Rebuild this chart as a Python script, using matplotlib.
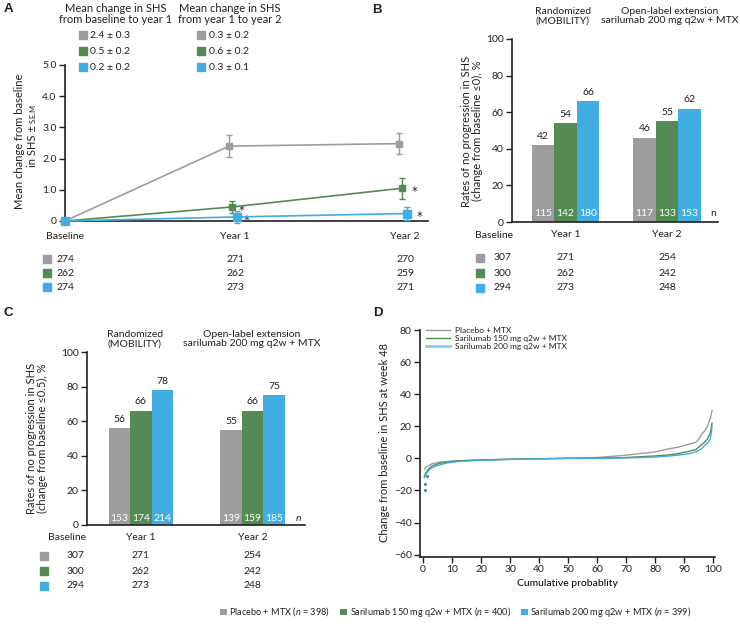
import matplotlib
matplotlib.use('Agg')
import matplotlib.pyplot as plt
import matplotlib.transforms as mtrans
from matplotlib.lines import Line2D
from matplotlib.patches import Patch

plt.rcParams['font.family'] = ['Lato', 'DejaVu Sans']
plt.rcParams['font.size'] = 7.5
plt.rcParams['mathtext.fontset'] = 'custom'
plt.rcParams['mathtext.rm'] = 'Lato'
plt.rcParams['mathtext.it'] = 'Lato:italic'
TXT = '#231f20'
plt.rcParams['text.color'] = TXT
plt.rcParams['xtick.color'] = TXT
plt.rcParams['ytick.color'] = TXT
plt.rcParams['axes.edgecolor'] = TXT

GREY = '#9d9d9f'
GREEN = '#548b52'
BLUE = '#41ade2'
COLORS = [GREY, GREEN, BLUE]

# ---------------- data ----------------
group_labels = ['Placebo + MTX', 'Sarilumab 150 mg q2w + MTX', 'Sarilumab 200 mg q2w + MTX']
group_n = [398, 400, 399]

# Panel A
a_timepoints = ['Baseline', 'Year 1', 'Year 2']
a_pbo_mean = [0.0, 2.40, 2.48]
a_pbo_sem = [0.0, 0.35, 0.33]
a_s150_mean = [0.0, 0.45, 1.05]
a_s150_sem = [0.0, 0.18, 0.33]
a_s200_mean = [0.0, 0.13, 0.24]
a_s200_sem = [0.0, 0.20, 0.20]
a_sig_s150 = [False, True, True]
a_sig_s200 = [False, True, True]
a_leg_y1 = ['2.4 ± 0.3', '0.5 ± 0.2', '0.2 ± 0.2']
a_leg_y2 = ['0.3 ± 0.2', '0.6 ± 0.2', '0.3 ± 0.1']
a_n_pbo = [274, 271, 270]
a_n_s150 = [262, 262, 259]
a_n_s200 = [274, 273, 271]

# Panel B (change from baseline <=0)
bc_periods = ['Year 1', 'Year 2']
b_pbo = [42, 46]
b_s150 = [54, 55]
b_s200 = [66, 62]
b_n_pbo = [115, 117]
b_n_s150 = [142, 133]
b_n_s200 = [180, 153]

# Panel C (change from baseline <=0.5)
c_pbo = [56, 55]
c_s150 = [66, 66]
c_s200 = [78, 75]
c_n_pbo = [153, 139]
c_n_s150 = [174, 159]
c_n_s200 = [214, 185]

# Tables below B and C (Baseline, Year 1, Year 2)
bc_tab_pbo = [307, 271, 254]
bc_tab_s150 = [300, 262, 242]
bc_tab_s200 = [294, 273, 248]

# Panel D: cumulative probability curves
d_pbo_p = [0.5, 1, 2, 3, 5, 8, 12, 20, 30, 40, 50, 60, 65, 70, 75, 80, 85, 88, 90, 92, 94, 95, 96, 97, 98, 99, 99.6]
d_pbo_v = [-7, -5.5, -4.5, -3.5, -2.6, -2, -1.5, -1, -0.5, -0.2, 0, 0.5, 1.2, 2, 3, 4, 6, 7, 8, 9, 10, 12, 15, 17, 20, 25, 30]
d_s150_p = [0.5, 1, 2, 3, 5, 8, 12, 20, 30, 40, 50, 60, 70, 80, 85, 88, 90, 92, 94, 95, 96, 97, 98, 99, 99.6]
d_s150_v = [-11, -9, -6.5, -5, -3.5, -2.3, -1.6, -1, -0.6, -0.3, 0, 0.2, 0.5, 1.5, 2.2, 3, 3.8, 4.5, 5.5, 7, 8.5, 10, 12, 16, 22]
d_s200_p = [0.5, 1, 2, 3, 5, 8, 12, 20, 30, 40, 50, 60, 70, 80, 85, 88, 90, 92, 94, 95, 96, 97, 98, 99, 99.6]
d_s200_v = [-12, -10, -7.5, -6, -4.5, -3, -2, -1.2, -0.7, -0.3, 0, 0, 0.2, 0.8, 1.5, 2, 2.5, 3, 4, 5, 6, 8, 9.5, 12, 20]
d_out_p = [0.7, 0.7, 1.5]
d_out_v = [-16, -20, -11]

# ---------------- layout helpers ----------------
W, H = 740, 626
fig = plt.figure(figsize=(7.4, 6.26), dpi=100)


def rect(l, t, r, b):
    return [l / W, 1 - b / H, (r - l) / W, (b - t) / H]


def fx(x):
    return x / W


def fy(y):
    return 1 - y / H


def ftext(x, y, s, **kw):
    fig.text(fx(x), fy(y), s, **kw)


def fsquare(x, y, color, size=5.2):
    fig.add_artist(Line2D([fx(x)], [fy(y)], marker='s', ms=size, color=color,
                          lw=0, transform=fig.transFigure))


def style_axes(ax):
    for s in ['top', 'right']:
        ax.spines[s].set_visible(False)
    for s in ['left', 'bottom']:
        ax.spines[s].set_linewidth(1.2)
    ax.tick_params(axis='y', length=4, width=1, direction='out', labelsize=7.5, pad=2)


# ---------------- Panel A ----------------
axA = fig.add_axes(rect(65, 65, 428, 221))
style_axes(axA)
xA = [0, 1, 2]
dodge = [-0.035, -0.018, 0.012]
series_A = [(a_pbo_mean, a_pbo_sem), (a_s150_mean, a_s150_sem), (a_s200_mean, a_s200_sem)]
msz = [4.5, 4.5, 5.5]
for i, (m, s) in enumerate(series_A):
    xs = [x + (dodge[i] if x > 0 else 0) for x in xA]
    axA.errorbar(xs, m, yerr=s, fmt='-s', color=COLORS[i], ms=msz[i], lw=1.2,
                 elinewidth=1.0, capsize=2.5, capthick=1.0, clip_on=False, zorder=3 + i)
for i, sig in [(1, a_sig_s150), (2, a_sig_s200)]:
    m = series_A[i][0]
    for j, flag in enumerate(sig):
        if flag:
            off = 0.04 if j == 1 else 0.055
            axA.text(xA[j] + dodge[i] + off, m[j] - 0.1, '*', fontsize=8.5, ha='left', va='center',
                     family=['DejaVu Sans'])
axA.set_xlim(0, 2.135)
axA.set_ylim(0, 5)
axA.set_yticks([0, 1, 2, 3, 4, 5])
axA.set_yticklabels(['0', '1.0', '2.0', '3.0', '4.0', '5.0'])
axA.set_xticks(xA)
axA.set_xticklabels(a_timepoints, fontsize=7.5)
axA.tick_params(axis='x', length=0, pad=8)
ftext(20, 141, 'Mean change from baseline', rotation=90, ha='center', va='center', fontsize=8)
ftext(33, 167, 'in SHS ±', rotation=90, rotation_mode='anchor', ha='left', va='center', fontsize=8)
ftext(33, 123, 'S.E.M', rotation=90, rotation_mode='anchor', ha='left', va='center', fontsize=5.5)

# Panel A legend block
ftext(116, 14, 'Mean change in SHS\nfrom baseline to year 1', ha='center', va='center',
      fontsize=8, linespacing=1.0)
ftext(230, 14, 'Mean change in SHS\nfrom year 1 to year 2', ha='center', va='center',
      fontsize=8, linespacing=1.0)
for i, yy in enumerate([35, 51, 67]):
    fsquare(82.5, yy, COLORS[i])
    ftext(90, yy, a_leg_y1[i], ha='left', va='center', fontsize=7.5)
    fsquare(201, yy, COLORS[i])
    ftext(209, yy, a_leg_y2[i], ha='left', va='center', fontsize=7.5)

# Panel A table
trA = mtrans.blended_transform_factory(axA.transData, fig.transFigure)
for i, (row, yy) in enumerate(zip([a_n_pbo, a_n_s150, a_n_s200], [259, 273, 287])):
    fsquare(47, yy, COLORS[i])
    for j, v in enumerate(row):
        axA.text(xA[j], fy(yy), str(v), transform=trA,
                 ha='center', va='center', fontsize=7.5)


# ---------------- Bar panels ----------------
def bar_panel(ax_rect, vals, ns, xlim, width, n_y, n_italic, base_x, sq_x, tab_rows_y, cat_y_px):
    ax = fig.add_axes(ax_rect)
    style_axes(ax)
    xs = [1, 2]
    for i in range(3):
        pos = [x + (i - 1) * width for x in xs]
        ax.bar(pos, vals[i], width=width, color=COLORS[i], edgecolor='none', zorder=2)
        for p, v, n in zip(pos, vals[i], ns[i]):
            ax.text(p, v + 2.5, str(v), ha='center', va='bottom', fontsize=7.5)
            ax.text(p, n_y, str(n), ha='center', va='center', fontsize=7.5, color='white', zorder=3)
    ax.text(2 + 1.5 * width + 0.12, n_y, r'$n$' if n_italic else 'n', ha='center', va='center', fontsize=7.5)
    ax.set_xlim(*xlim)
    ax.set_ylim(0, 100)
    ax.set_yticks([0, 20, 40, 60, 80, 100])
    ax.set_xticks(xs)
    ax.set_xticklabels(bc_periods, fontsize=7.5)
    ax.tick_params(axis='x', length=0, pad=6)
    tr = mtrans.blended_transform_factory(ax.transData, fig.transFigure)
    ftext(base_x, cat_y_px, 'Baseline', ha='center', va='center', fontsize=7.5)
    for i, (row, yy) in enumerate(zip([bc_tab_pbo, bc_tab_s150, bc_tab_s200], tab_rows_y)):
        fsquare(sq_x, yy, COLORS[i], size=6)
        ftext(base_x + 8, yy, str(row[0]), ha='center', va='center', fontsize=7.5)
        for j in (1, 2):
            ax.text(xs[j - 1], fy(yy), str(row[j]), transform=tr, ha='center', va='center', fontsize=7.5)
    return ax


# Panel B
bw = 22.5 / 101.5
axB = bar_panel(rect(512, 39, 718, 222), [b_pbo, b_s150, b_s200], [b_n_pbo, b_n_s150, b_n_s200],
                (0.473, 2.502), bw, 4.5, False, 494, 480, [258, 273, 288], 235)
ftext(472, 131, 'Rates of no progression in SHS\n(change from baseline ≤0), %', rotation=90,
      ha='center', va='center', fontsize=8, linespacing=1.1, multialignment='center')
ftext(563, 16, 'Randomized\n(MOBILITY)', ha='center', va='center', fontsize=7.5, linespacing=1.05)
ftext(670, 16, 'Open-label extension\nsarilumab 200 mg q2w + MTX', ha='center', va='center',
      fontsize=7.5, linespacing=1.05)

# Panel C
cw = 21.5 / 111.5
axC = bar_panel(rect(87, 352, 305, 525), [c_pbo, c_s150, c_s200], [c_n_pbo, c_n_s150, c_n_s200],
                (0.516, 2.471), cw, 3.5, True, 67, 44, [556, 571, 586], 538)
ftext(37, 438, 'Rates of no progression in SHS\n(change from baseline ≤0.5), %', rotation=90,
      ha='center', va='center', fontsize=8, linespacing=1.1, multialignment='center')
ftext(135, 339, 'Randomized\n(MOBILITY)', ha='center', va='center', fontsize=7.5, linespacing=1.05)
ftext(252, 339, 'Open-label extension\nsarilumab 200 mg q2w + MTX', ha='center', va='center',
      fontsize=7.5, linespacing=1.05)

# ---------------- Panel D ----------------
axD = fig.add_axes(rect(420, 330, 715, 557))
style_axes(axD)
axD.plot(d_pbo_p, d_pbo_v, color=GREY, lw=1.0)
axD.plot(d_s150_p, d_s150_v, color=GREEN, lw=1.0)
axD.plot(d_s200_p, d_s200_v, color=BLUE, lw=1.0)
axD.scatter(d_out_p, d_out_v, s=1.5, color='#3f8f9f', zorder=3)
axD.set_xlim(-1, 100.6)
axD.set_ylim(-61.5, 80)
axD.set_yticks([-60, -40, -20, 0, 20, 40, 60, 80])
axD.set_xticks(range(0, 101, 10))
axD.tick_params(axis='x', length=4, width=1, direction='out', labelsize=7.5, pad=2)
axD.set_xlabel('Cumulative probablity', fontsize=7.5, labelpad=3)
ftext(385, 443, 'Change from baseline in SHS at week 48', rotation=90, ha='center', va='center', fontsize=8)
d_handles = [Line2D([], [], color=GREY, lw=1.0), Line2D([], [], color=GREEN, lw=1.0),
             Line2D([], [], color='#8fcbe6', lw=2.0)]
axD.legend(d_handles, group_labels, loc='upper left', bbox_to_anchor=(0.01, 1.03), frameon=False,
           fontsize=6, handlelength=2.8, handletextpad=0.6, labelspacing=0.15, borderaxespad=0)

# Panel letters
for s, x, y in [('A', 8, 9), ('B', 377, 10), ('C', 8, 313), ('D', 378, 313)]:
    ftext(x, y, s, ha='center', va='center', fontsize=9.5, fontweight='bold', family=['Liberation Sans', 'DejaVu Sans'])

# Bottom legend
leg_handles = [Patch(facecolor=c, edgecolor='none') for c in COLORS]
leg_labels = [f'{g} ($n$ = {n})' for g, n in zip(group_labels, group_n)]
fig.legend(leg_handles, leg_labels, loc='center', bbox_to_anchor=(fx(456), fy(612)), ncol=3,
           frameon=False, fontsize=6.6, handlelength=0.7, handleheight=0.7, handletextpad=0.3,
           columnspacing=1.1)

fig.savefig('out.png', dpi=100)
